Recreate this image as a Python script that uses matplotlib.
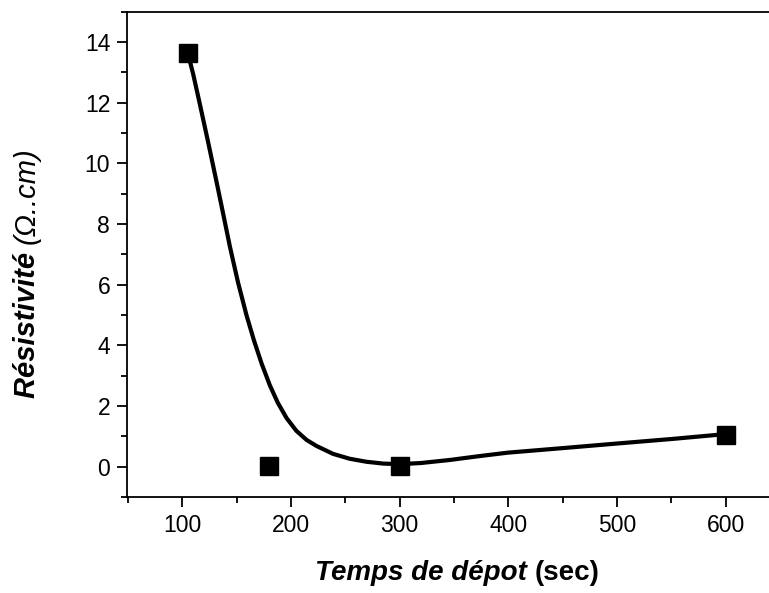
import matplotlib.pyplot as plt
from matplotlib.ticker import MultipleLocator

plt.rcParams['font.family'] = ['Liberation Sans', 'DejaVu Sans']

# measured resistivity vs deposition time
temps = [105, 180, 300, 600]
resistivite = [13.65, 0.03, 0.03, 1.04]

# fitted trend line
fit_t = [105, 110, 116.2, 123.8, 131.6, 137.5, 143.8, 151.4, 159.2, 165.9,
         173.0, 180.6, 188.0, 196.0, 205.0, 214.4, 223.6, 238.8, 254.0, 269.5,
         285.0, 300.2, 320.0, 346.4, 372.0, 399.5, 450.0, 499.5, 550.0, 599.2]
fit_r = [13.65, 12.95, 11.95, 10.70, 9.38, 8.36, 7.26, 6.06, 4.98, 4.17,
         3.40, 2.68, 2.10, 1.60, 1.18, 0.88, 0.68, 0.42, 0.26, 0.16,
         0.10, 0.08, 0.12, 0.22, 0.34, 0.46, 0.61, 0.76, 0.91, 1.07]

fig = plt.figure(figsize=(7.69, 5.93), dpi=100)
ax = fig.add_axes([0.165, 0.162, 0.835, 0.818])

ax.plot(fit_t, fit_r, color='black', lw=3, solid_joinstyle='round',
        solid_capstyle='round', zorder=2)
ax.plot(temps, resistivite, 's', color='black', ms=12.5, zorder=3)

ax.set_xlim(49, 640)
ax.set_ylim(-1, 15)
ax.xaxis.set_minor_locator(MultipleLocator(50))
ax.yaxis.set_minor_locator(MultipleLocator(1))
ax.set_xticks([100, 200, 300, 400, 500, 600])
ax.set_yticks([0, 2, 4, 6, 8, 10, 12, 14])

ax.spines['right'].set_visible(False)
for s in ['left', 'bottom', 'top']:
    ax.spines[s].set_linewidth(1.3)
ax.tick_params(which='major', direction='out', length=7, width=1.3,
               labelsize=16.5, pad=5)
ax.tick_params(which='minor', direction='out', length=4, width=1.3)
ax.tick_params(top=False, right=False, which='both')

# y label: bold italic word, lighter italic unit
fig.canvas.draw()
renderer = fig.canvas.get_renderer()
y1 = fig.text(27 / 769, 1 - 398 / 593, 'Résistivité ', fontsize=21,
              fontweight='bold', fontstyle='italic', rotation=90,
              ha='center', va='bottom')
bb = y1.get_window_extent(renderer)
fig.text(27 / 769, bb.y1 / fig.bbox.height, '(Ω..cm)', fontsize=21,
         fontstyle='italic', rotation=90, ha='center', va='bottom')

# x label: italic part followed by upright unit
t1 = fig.text(0.41, 0.022, 'Temps de dépot ', fontsize=20, fontweight='bold',
              fontstyle='italic', ha='left', va='baseline')
ax.annotate('(sec)', xy=(1, 0), xycoords=t1, fontsize=20, fontweight='bold',
            ha='left', va='bottom', annotation_clip=False)

fig.savefig('out.png', dpi=100)
